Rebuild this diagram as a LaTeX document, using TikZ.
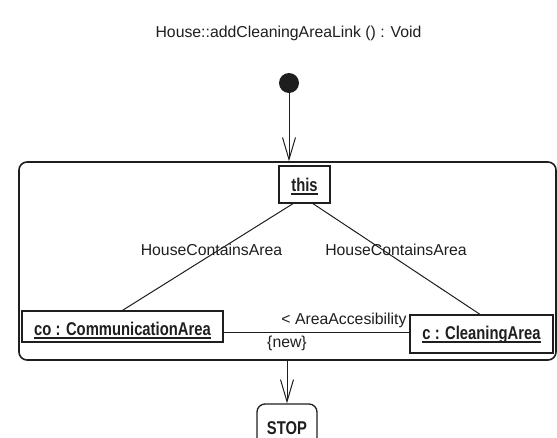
\documentclass[tikz,border=0pt]{standalone}
\usepackage{fontspec}
\setmainfont{Liberation Sans}
% narrow bold face for object names
\newfontfamily\namefont[FakeStretch=0.8]{Liberation Sans}
\usetikzlibrary{arrows.meta}

\definecolor{ink}{RGB}{30,30,30}

% underline drawn at a fixed distance below the baseline
\newcommand\ulname[1]{\leavevmode\setbox0\hbox{#1}\rlap{\vrule height -2pt depth 4pt width \wd0}\box0}

\tikzset{
  lbl/.style={inner sep=0pt, text=ink, text depth=0pt,
    font=\fontsize{15.8}{18}\selectfont},
  objbox/.style={draw=ink, line width=1.3pt, inner sep=0pt, text=ink,
    font=\namefont\fontsize{18.5}{20}\selectfont\bfseries},
  frame/.style={draw=ink, line width=1.6pt, rounded corners=8pt, inner sep=0pt},
  link/.style={draw=ink, line width=1pt},
  flow/.style={link, -{Straight Barb[length=22pt,width=13pt]}}
}

\begin{document}
\begin{tikzpicture}[x=1pt,y=-1pt]
\useasboundingbox (0,0) rectangle (557,437);

% heading and initial state
\node[lbl, text height=11.3pt] (title) at (288.5,31.5) {House::addCleaningAreaLink () : Void};
\node[circle, fill=ink, minimum size=20pt, inner sep=0pt] (start) at (289,83) {};

% story pattern frame
\node[frame, minimum width=537pt, minimum height=198pt] (act) at (287.5,261) {};

% objects
\node[objbox, minimum width=51pt, minimum height=37pt, text height=13pt, text depth=0pt]
  (this) at (304.5,184.5) {\ulname{this}};
\node[objbox, minimum width=201pt, minimum height=31pt, text height=17pt, text depth=0pt]
  (co) at (122.5,326.5) {\ulname{co : CommunicationArea}};
\node[objbox, minimum width=143pt, minimum height=38pt, text height=13pt, text depth=3pt]
  (c) at (481.5,334) {\ulname{c : CleaningArea}};

% final state
\node[objbox, rounded corners=8pt, minimum width=60pt, minimum height=46pt,
  text height=15pt, text depth=0pt] (stop) at (287,427) {STOP};

% links
\draw[link] ([xshift=-11.5pt]this.south) -- (co.north);
\draw[link] ([xshift=8.5pt]this.south) -- ([xshift=-1.5pt]c.north);
\draw[link] ([yshift=-5.5pt]co.east) -- ([yshift=-5.5pt]co.east -| c.west);

\node[lbl, text height=11.5pt] (hca1) at (211.5,250) {HouseContainsArea};
\node[lbl, text height=11.5pt] (hca2) at (396,250) {HouseContainsArea};
\node[lbl, text height=11.3pt] (acc) at (344,319) {< AreaAccesibility};
\node[lbl, text height=9pt] (new) at (287,343) {\{new\}};

% control flow
\draw[flow] (start) -- (start |- act.north);
\draw[flow] (stop.north |- act.south) -- (stop.north);
\end{tikzpicture}
\end{document}
